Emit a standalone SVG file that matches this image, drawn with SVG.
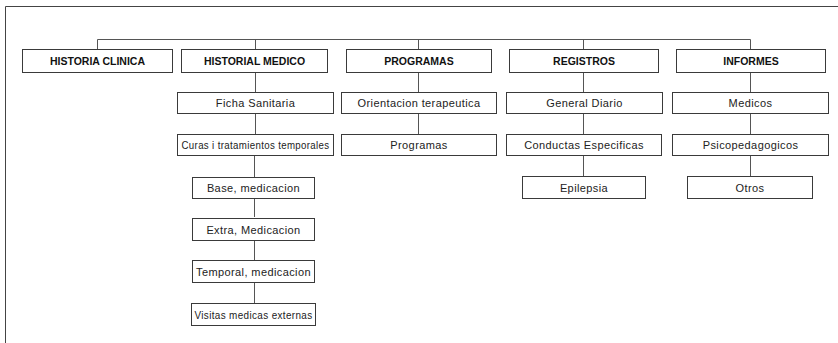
<svg xmlns="http://www.w3.org/2000/svg" width="838" height="343" viewBox="0 0 838 343">
<style>
.box{fill:#fff;stroke:#3a3a3a;stroke-width:1}
.t1{font-family:"Liberation Sans",Arial,sans-serif;font-size:10.5px;font-weight:bold;fill:#111;text-anchor:middle}
.t2{font-family:"Liberation Sans",Arial,sans-serif;font-size:11px;letter-spacing:0.4px;fill:#222;text-anchor:middle}
.c{stroke:#555;stroke-width:1;fill:none}
.frame{stroke:#444;stroke-width:1;fill:none}
</style>
<rect width="838" height="343" fill="#fff"/>
<path class="frame" d="M5.5,343 V6.5 H838"/>
<g id="connectors">
<path class="c" d="M97.5,49 V39.5 H750.5 V49 M255.5,39.5 V49 M418.5,39.5 V49 M583.5,39.5 V49"/>
<path class="c" d="M255.5,72 V92 M255.5,113 V134 M254.5,156 V177 M254.5,199 V217 M254.5,241 V260 M254.5,283 V303"/>
<path class="c" d="M418.5,72 V92 M418.5,113 V134"/>
<path class="c" d="M583.5,72 V92 M583.5,113 V134 M583.5,156 V176"/>
<path class="c" d="M750.5,72 V92 M750.5,113 V134 M750.5,156 V176"/>
</g>
<g id="historia-clinica"><rect class="box" x="22.5" y="49.5" width="150" height="23"/><text class="t1" x="97.5" y="65">HISTORIA CLINICA</text></g>
<g id="historial-medico"><rect class="box" x="181.5" y="49.5" width="146" height="23"/><text class="t1" x="254.5" y="65">HISTORIAL MEDICO</text></g>
<g id="programas"><rect class="box" x="346.5" y="49.5" width="145" height="23"/><text class="t1" x="419" y="65">PROGRAMAS</text></g>
<g id="registros"><rect class="box" x="509.5" y="49.5" width="149" height="23"/><text class="t1" x="584" y="65">REGISTROS</text></g>
<g id="informes"><rect class="box" x="676.5" y="49.5" width="149" height="23"/><text class="t1" x="751" y="65">INFORMES</text></g>

<g id="ficha-sanitaria"><rect class="box" x="177.5" y="92.5" width="156" height="21"/><text class="t2" x="255.5" y="107">Ficha Sanitaria</text></g>
<g id="orientacion"><rect class="box" x="341.5" y="92.5" width="155" height="21"/><text class="t2" x="419" y="107">Orientacion terapeutica</text></g>
<g id="general-diario"><rect class="box" x="506.5" y="92.5" width="156" height="21"/><text class="t2" x="584.5" y="107">General Diario</text></g>
<g id="medicos"><rect class="box" x="672.5" y="92.5" width="156" height="21"/><text class="t2" x="750.5" y="107">Medicos</text></g>

<g id="curas"><rect class="box" x="177.5" y="134.5" width="156" height="21"/><text class="t2" x="255.5" y="149" textLength="148" lengthAdjust="spacingAndGlyphs">Curas i tratamientos temporales</text></g>
<g id="programas-2"><rect class="box" x="341.5" y="134.5" width="155" height="21"/><text class="t2" x="419" y="149">Programas</text></g>
<g id="conductas"><rect class="box" x="506.5" y="134.5" width="155" height="21"/><text class="t2" x="584" y="149">Conductas Especificas</text></g>
<g id="psicopedagogicos"><rect class="box" x="672.5" y="134.5" width="156" height="21"/><text class="t2" x="750.5" y="149">Psicopedagogicos</text></g>

<g id="base-medicacion"><rect class="box" x="192.5" y="177.5" width="122" height="21"/><text class="t2" x="253.5" y="192">Base, medicacion</text></g>
<g id="epilepsia"><rect class="box" x="522.5" y="176.5" width="123" height="22"/><text class="t2" x="584" y="191.5">Epilepsia</text></g>
<g id="otros"><rect class="box" x="687.5" y="176.5" width="125" height="22"/><text class="t2" x="750" y="191.5">Otros</text></g>

<g id="extra-medicacion"><rect class="box" x="192.5" y="218.5" width="122" height="22"/><text class="t2" x="253.5" y="233.5">Extra, Medicacion</text></g>
<g id="temporal-medicacion"><rect class="box" x="192.5" y="260.5" width="122" height="22"/><text class="t2" x="253.5" y="275.5">Temporal, medicacion</text></g>
<g id="visitas"><rect class="box" x="191.5" y="303.5" width="124" height="22"/><text class="t2" x="253.5" y="318.5" textLength="118" lengthAdjust="spacingAndGlyphs">Visitas medicas externas</text></g>
</svg>
